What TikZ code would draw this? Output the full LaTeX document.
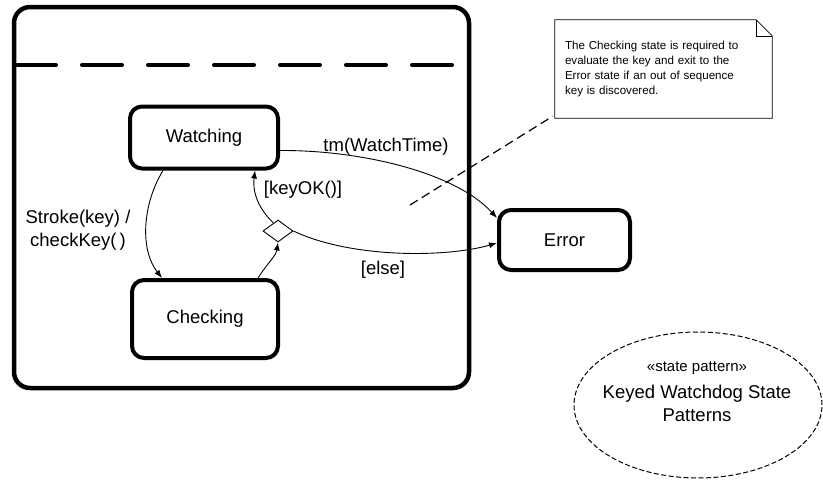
\documentclass[tikz,border=0pt]{standalone}
\usepackage{fontspec}
\setmainfont{Liberation Sans}
\usetikzlibrary{shapes.geometric,arrows.meta}
\begin{document}
\begin{tikzpicture}[x=1pt,y=-1pt,
  statebox/.style={draw, line width=4pt, rounded corners=12pt, font=\fontsize{18.5}{22}\selectfont},
  container/.style={draw, line width=4.5pt, rounded corners=16pt},
  trans/.style={draw, line width=0.9pt, -{Latex[length=8pt,width=6pt]}},
  lbl/.style={font=\fontsize{18.5}{23}\selectfont, inner sep=0pt},
  choice/.style={draw, diamond, line width=0.9pt, inner sep=0pt, minimum width=30pt, minimum height=22pt},
  notebox/.style={inner sep=0pt, text width=200pt, align=left, font=\fontsize{11.6}{14.7}\selectfont, minimum width=214pt, minimum height=98pt},
  patt/.style={draw, ellipse, dash pattern=on 5pt off 2.5pt, line width=1pt, minimum width=248pt, minimum height=146pt}
  ]
\useasboundingbox (0,0) rectangle (823,483);

% composite state
\node[container, minimum width=455pt, minimum height=381pt] (outer) at (241.5,197.5) {};
\coordinate (sepL) at (16,65);
\coordinate (sepR) at (467,65);
\draw[line width=4pt, line cap=round, dash pattern=on 40pt off 26pt] (sepL) -- (sepR);

% states
\node[statebox, minimum width=148pt, minimum height=62pt] (watch) at (204,137.5) {Watching};
\node[statebox, minimum width=146pt, minimum height=78pt] (check) at (205,319) {Checking};
\node[statebox, minimum width=131pt, minimum height=60pt] (err) at (564.5,240) {Error};
\node[choice] (ch) at (278,231) {};

% transitions
\draw[trans] ([xshift=-41pt]watch.south) .. controls (142,205) and (140,250) .. ([xshift=-43pt]check.north);
\draw[trans] ([xshift=53pt]check.north) .. controls (266,265) and (276,256) .. (ch.south);
\draw[trans] ([xshift=-5pt,yshift=-3pt]ch.north) .. controls (262,212) and (252,196) .. ([xshift=51pt]watch.south);
\draw[trans] (ch.east) .. controls (350,258) and (445,258) .. ([yshift=-3pt]err.west);
\draw[trans] ([yshift=-13pt]watch.east) .. controls (360,150) and (455,172) .. ([yshift=22pt]err.west);

% labels
\node[lbl, align=center] (lstroke) at (78,230) {Stroke(key) /\\checkKey(\,)};
\node[lbl] (ltm) at (386,147) {tm(WatchTime)};
\node[lbl] (lok) at (303,190) {[keyOK()]};
\node[lbl] (lelse) at (383,270) {[else]};

% note
\node[notebox] (note) at (665,69) {The Checking state is required to\\evaluate the key and exit to the\\Error state if an out of sequence\\key is discovered.};
\draw[line width=0.8pt] ([xshift=-3pt]note.north west) -- ([xshift=-16pt]note.north east) -- ([yshift=-16pt]note.north east) -- (note.south east) -- ([xshift=-3pt]note.south west) -- cycle;
\draw[line width=0.6pt] ([xshift=-16pt]note.north east) -- ([xshift=-16pt,yshift=-16pt]note.north east) -- ([yshift=-16pt]note.north east);
\coordinate (anch) at (410,205);
\draw[line width=1.2pt, dash pattern=on 9pt off 5pt] (anch) -- ([xshift=-5pt,yshift=2pt]note.south west);

% pattern ellipse
\node[patt] (pat) at (698,405) {};
\node[align=center, inner sep=0pt, font=\fontsize{18.5}{23}\selectfont] (pattxt) at (697,392) {{\fontsize{15}{18}\selectfont «state pattern»}\\[4pt]Keyed Watchdog State\\Patterns};
\end{tikzpicture}
\end{document}
